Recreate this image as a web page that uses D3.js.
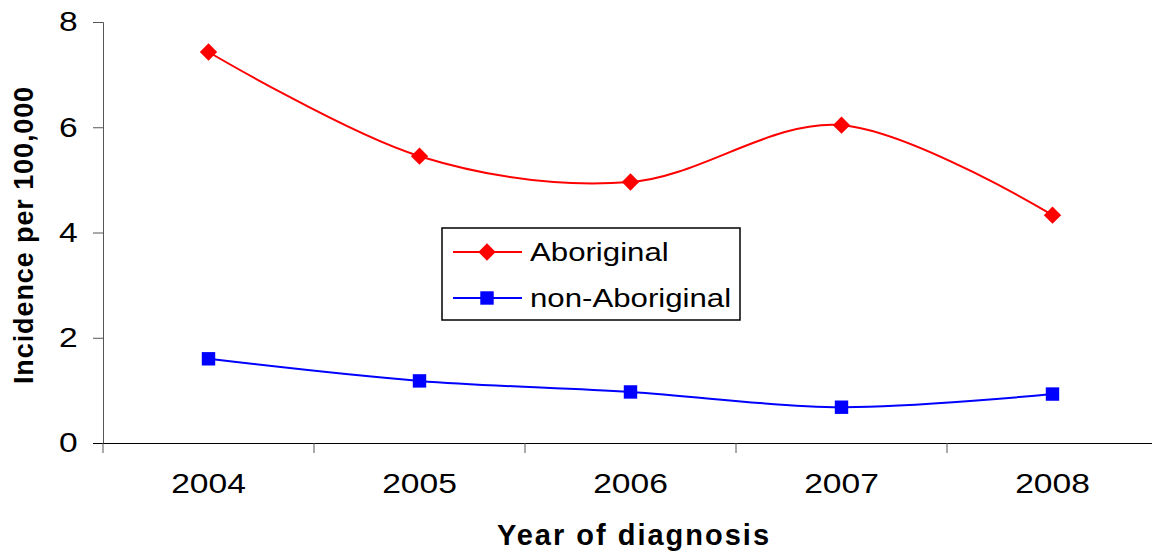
<!DOCTYPE html>
<html>
<head>
<meta charset="utf-8">
<script src="https://cdn.jsdelivr.net/npm/d3@7"></script>
<style>
  body { margin: 0; background: #fff; }
  text { font-family: "Liberation Sans", Arial, sans-serif; }
</style>
</head>
<body>
<svg width="1152" height="551"></svg>
<script>
var years = ["2004", "2005", "2006", "2007", "2008"];
var aboriginal = [7.43, 5.45, 4.96, 6.04, 4.33];
var nonAboriginal = [1.60, 1.18, 0.97, 0.68, 0.93];
var yTicks = [0, 2, 4, 6, 8];

var svg = d3.select("svg");

var margin = {left: 103, top: 22, right: -6, bottom: 108};
var width = 1152 - margin.left - margin.right,
    height = 551 - margin.top - margin.bottom;

var g = svg.append("g").attr("transform", "translate(" + margin.left + "," + margin.top + ")");

var x = d3.scaleBand().domain(years).range([0, width]);
var y = d3.scaleLinear().domain([0, 8]).range([height, 0]);

// y axis
var yAxis = g.append("g")
    .call(d3.axisLeft(y).tickValues(yTicks).tickSize(10).tickPadding(11).tickFormat(d3.format("d")));
yAxis.select(".domain").attr("stroke", "#555");
yAxis.selectAll("line").attr("stroke", "#555");
yAxis.selectAll("text").attr("font-size", 28).attr("fill", "#000")
    .attr("transform", "scale(1.2,1)")
    .style("font-family", "'Liberation Sans', Arial, sans-serif");

// x axis
var xAxis = g.append("g")
    .attr("transform", "translate(0," + height + ")")
    .call(d3.axisBottom(x).tickSize(0).tickPadding(30));
xAxis.select(".domain").attr("stroke", "#000").attr("d", "M-10,0.5H" + width);
xAxis.selectAll("text").attr("font-size", 28).attr("fill", "#000")
    .attr("transform", "scale(1.2,1)")
    .style("font-family", "'Liberation Sans', Arial, sans-serif");

// category separators on x axis
g.append("g").selectAll("line")
    .data(years.concat(["end"]))
    .enter().append("line")
    .attr("x1", function(d, i) { return i * x.bandwidth(); })
    .attr("x2", function(d, i) { return i * x.bandwidth(); })
    .attr("y1", height)
    .attr("y2", height + 10)
    .attr("stroke", "#555");

var line = d3.line()
    .x(function(d, i) { return x(years[i]) + x.bandwidth() / 2; })
    .y(function(d) { return y(d); })
    .curve(d3.curveCardinal.tension(0));

g.append("path").datum(aboriginal)
    .attr("d", line).attr("fill", "none").attr("stroke", "#ff0000").attr("stroke-width", 2);
g.append("path").datum(nonAboriginal)
    .attr("d", line).attr("fill", "none").attr("stroke", "#0000ff").attr("stroke-width", 2);

// diamond = square turned 45 degrees
var diamond = d3.symbol().type(d3.symbolSquare).size(150);
var square = d3.symbol().type(d3.symbolSquare).size(180);

g.selectAll(".abo").data(aboriginal).enter().append("path")
    .attr("d", diamond)
    .attr("transform", function(d, i) { return "translate(" + (x(years[i]) + x.bandwidth() / 2) + "," + y(d) + ") rotate(45)"; })
    .attr("fill", "#ff0000");

g.selectAll(".non").data(nonAboriginal).enter().append("path")
    .attr("d", square)
    .attr("transform", function(d, i) { return "translate(" + (x(years[i]) + x.bandwidth() / 2) + "," + y(d) + ")"; })
    .attr("fill", "#0000ff");

// legend
var legend = svg.append("g").attr("transform", "translate(442,228)");
legend.append("rect").attr("width", 298).attr("height", 92)
    .attr("fill", "#fff").attr("stroke", "#000").attr("stroke-width", 1.5);

var entries = [
  {name: "Aboriginal", color: "#ff0000", sym: diamond, rot: 45, yy: 24},
  {name: "non-Aboriginal", color: "#0000ff", sym: square, rot: 0, yy: 70}
];
entries.forEach(function(e) {
  legend.append("line").attr("x1", 11).attr("x2", 80).attr("y1", e.yy).attr("y2", e.yy)
      .attr("stroke", e.color).attr("stroke-width", 2);
  legend.append("path").attr("d", e.sym).attr("fill", e.color)
      .attr("transform", "translate(45," + e.yy + ") rotate(" + e.rot + ")");
  legend.append("text")
      .attr("transform", "translate(88," + (e.yy + 9) + ") scale(1.2,1)")
      .attr("font-size", 26).text(e.name);
});

// axis titles
svg.append("text")
    .attr("x", 634).attr("y", 545)
    .attr("text-anchor", "middle")
    .attr("font-size", 29).attr("font-weight", "bold")
    .attr("letter-spacing", 2)
    .text("Year of diagnosis");

svg.append("text")
    .attr("transform", "translate(33,235) rotate(-90)")
    .attr("text-anchor", "middle")
    .attr("font-size", 27).attr("font-weight", "bold")
    .attr("letter-spacing", 0.9)
    .text("Incidence per 100,000");
</script>
</body>
</html>
